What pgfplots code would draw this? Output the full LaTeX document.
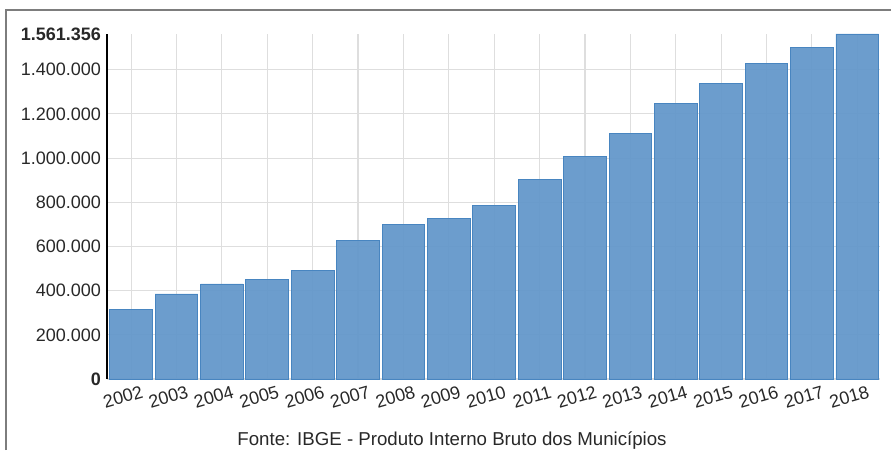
\documentclass[border=0pt]{standalone}
\usepackage{pgfplots}
\pgfplotsset{compat=1.18}
\usepackage{fontspec}
\setmainfont{Liberation Sans}
\definecolor{barfill}{RGB}{100,152,202}
\definecolor{baredge}{RGB}{72,133,192}
\definecolor{gridc}{RGB}{222,222,222}
\definecolor{framec}{RGB}{125,125,125}
\definecolor{labc}{RGB}{40,40,40}
\begin{document}
\begin{tikzpicture}[x=0.75pt,y=0.75pt]
\useasboundingbox (0,0) rectangle (891,450);
\draw[framec, line width=1.6pt] (6,0) -- (6,440) -- (891,440);
\begin{axis}[
  at={(80.25pt,53.25pt)}, anchor=south west,
  scale only axis, width=579.75pt, height=258.75pt,
  xmin=-0.53, xmax=16.5, ymin=0, ymax=1561356,
  axis x line*=bottom, axis y line*=left,
  x axis line style={draw=gridc, line width=1pt},
  y axis line style={draw=black, line width=1.2pt},
  xtick={0,...,16},
  xticklabels={2002,2003,2004,2005,2006,2007,2008,2009,2010,2011,2012,2013,2014,2015,2016,2017,2018},
  ytick={200000,400000,600000,800000,1000000,1200000,1400000},
  extra y ticks={0,1561356},
  extra y tick style={yticklabel style={font=\fontsize{13.5}{15}\selectfont\bfseries}, grid=none},
  grid=major, major grid style={draw=gridc, line width=0.8pt},
  major tick length=0pt,
  scaled y ticks=false,
  /pgf/number format/assume math mode=true,
  /pgf/number format/fixed,
  /pgf/number format/precision=0,
  /pgf/number format/1000 sep={.},
  tick label style={font=\fontsize{13.5}{15}\selectfont, text=labc},
  y tick label style={xshift=-1pt},
  x tick label style={rotate=16, anchor=north east, xshift=9pt, yshift=-3pt},
]
\addplot[ybar, bar width=32pt, fill=barfill, fill opacity=0.95, draw=baredge, line width=0.6pt]
coordinates {
(0,316000) (1,385000) (2,430000) (3,452000) (4,493000) (5,626000)
(6,701000) (7,725000) (8,787000) (9,903000) (10,1009000) (11,1113000)
(12,1249000) (13,1339000) (14,1430000) (15,1502000) (16,1561356)
};
\end{axis}
\node[font=\fontsize{14}{16}\selectfont, text=labc] at (452,9) {Fonte: IBGE - Produto Interno Bruto dos Municípios};
\end{tikzpicture}
\end{document}
